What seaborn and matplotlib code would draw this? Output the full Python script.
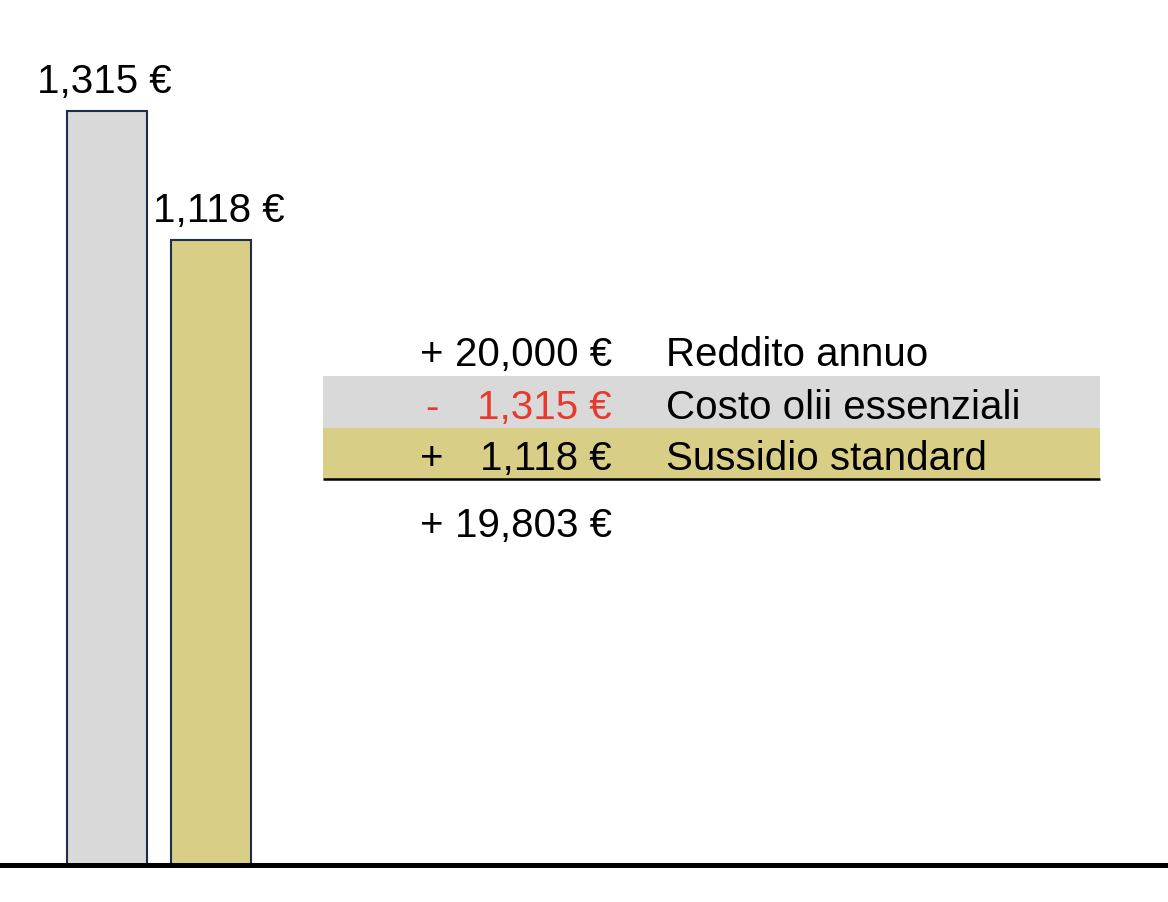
import matplotlib
matplotlib.use("Agg")
import matplotlib.pyplot as plt
from matplotlib.patches import Rectangle
import seaborn as sns

# ---- data ----
categories = ["Costo olii essenziali", "Sussidio standard"]
values = [1315, 1118]
income_label = "Reddito annuo"
income = 20000
signs = ["-", "+"]
net = income - values[0] + values[1]

# ---- styling ----
bar_colors = ["#D9D9D9", "#D9CE85"]
edge_color = "#1F2D4D"
red = "#E8392C"
FS = 29

sns.set_theme(style="white")
plt.rcParams["font.family"] = ["Liberation Sans", "DejaVu Sans"]

W, H = 1168, 902
fig = plt.figure(figsize=(W / 100, H / 100), dpi=100)
fig.patch.set_facecolor("white")

# bar axes: bottom edge at pixel row 865
base_px = 865
ax = fig.add_axes([0, (H - base_px) / H, 1, base_px / H])
sns.barplot(x=categories, y=values, hue=categories, palette=bar_colors,
            saturation=1, width=0.77, edgecolor=edge_color, linewidth=1.5,
            legend=False, ax=ax)
ax.set_xlim(-107 / 104, (W - 107) / 104)
ax.set_ylim(164, 1485)
ax.set_xticks([])
ax.set_yticks([])
ax.set_xlabel("")
ax.set_ylabel("")
for s in ["top", "left", "right"]:
    ax.spines[s].set_visible(False)
ax.spines["bottom"].set_visible(True)
ax.spines["bottom"].set_color("black")
ax.spines["bottom"].set_linewidth(3.6)
ax.spines["bottom"].set_zorder(5)
ax.set_facecolor("none")

label_dx = [-1.8, 5.8]
for i, v in enumerate(values):
    ax.annotate(f"{v:,} €", xy=(i, v), xytext=(label_dx[i], 13),
                textcoords="offset points", ha="center", va="baseline",
                fontsize=FS, color="black")

# overlay axes in pixel coordinates for the summary table
ov = fig.add_axes([0, 0, 1, 1])
ov.set_xlim(0, W)
ov.set_ylim(H, 0)
ov.axis("off")
ov.patch.set_alpha(0)

ov.add_patch(Rectangle((323, 376), 777, 52, facecolor=bar_colors[0], edgecolor="none"))
ov.add_patch(Rectangle((323, 428), 777, 50.5, facecolor=bar_colors[1], edgecolor="none"))
ov.plot([323, 1100], [479, 479], color="black", lw=1.8, solid_capstyle="butt")

sign_x, num_x, lab_x = 431.5, 612, 666
rows = [("+", f"{income:,} €", income_label, "black", "black")]
for c, v, s in zip(categories, values, signs):
    col = red if s == "-" else "black"
    rows.append((s, f"{v:,} €", c, col, col))
baselines = [366, 419, 470]
for (s, num, lab, scol, ncol), yb in zip(rows, baselines):
    ov.text(sign_x, yb, s, ha="center", va="baseline", fontsize=FS, color=scol)
    ov.text(num_x, yb, num, ha="right", va="baseline", fontsize=FS, color=ncol)
    ov.text(lab_x, yb, lab, ha="left", va="baseline", fontsize=FS, color="black")

ov.text(sign_x, 537, "+", ha="center", va="baseline", fontsize=FS, color="black")
ov.text(num_x, 537, f"{net:,} €", ha="right", va="baseline", fontsize=FS, color="black")

fig.savefig("out.png", dpi=100, facecolor="white")
